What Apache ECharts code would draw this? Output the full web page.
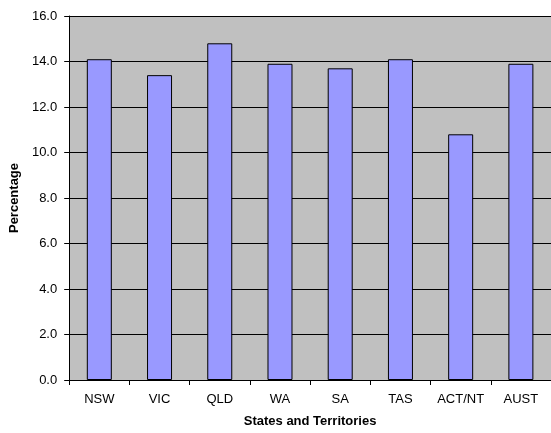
<!DOCTYPE html>
<html>
<head>
<meta charset="utf-8">
<script src="https://cdn.jsdelivr.net/npm/echarts@6/dist/echarts.min.js"></script>
<style>html,body{margin:0;padding:0;background:#fff}#c{width:551px;height:433px}</style>
</head>
<body>
<div id="c"></div>
<script>
var categories = ['NSW', 'VIC', 'QLD', 'WA', 'SA', 'TAS', 'ACT/NT', 'AUST'];
var percentages = [14.1, 13.4, 14.8, 13.9, 13.7, 14.1, 10.8, 13.9];
var yAxisTitle = 'Percentage';
var xAxisTitle = 'States and Territories';

var chart = echarts.init(document.getElementById('c'), null, {renderer: 'canvas'});
var font = 'Liberation Sans, Arial, sans-serif';
chart.setOption({
  animation: false,
  backgroundColor: '#ffffff',
  grid: {left: 65, top: 16, width: 488, height: 365, backgroundColor: '#c0c0c0', show: true, borderWidth: 0},
  xAxis: {
    type: 'category',
    data: categories,
    name: xAxisTitle,
    nameLocation: 'middle',
    nameGap: 35,
    nameTextStyle: {fontFamily: font, fontSize: 13, fontWeight: 'bold', color: '#000'},
    axisLine: {lineStyle: {color: '#000', width: 1}},
    axisTick: {show: true, length: 5, alignWithLabel: false, lineStyle: {color: '#000'}},
    axisLabel: {fontFamily: font, fontSize: 13, color: '#000', margin: 13, interval: 0},
    splitLine: {show: false}
  },
  yAxis: {
    type: 'value',
    min: 0, max: 16, interval: 2,
    name: yAxisTitle,
    nameLocation: 'middle',
    nameGap: 41,
    nameRotate: 90,
    nameTextStyle: {fontFamily: font, fontSize: 13, fontWeight: 'bold', color: '#000'},
    axisLine: {show: true, lineStyle: {color: '#000', width: 1}},
    axisTick: {show: true, length: 5, lineStyle: {color: '#000'}},
    axisLabel: {fontFamily: font, fontSize: 13, color: '#000', margin: 12, formatter: function (v) { return v.toFixed(1); }},
    splitLine: {show: true, lineStyle: {color: '#000', width: 1}}
  },
  series: [{
    type: 'bar',
    data: percentages,
    barWidth: 25,
    itemStyle: {color: '#9999ff', borderColor: '#000', borderWidth: 1}
  }]
});
</script>
</body>
</html>
